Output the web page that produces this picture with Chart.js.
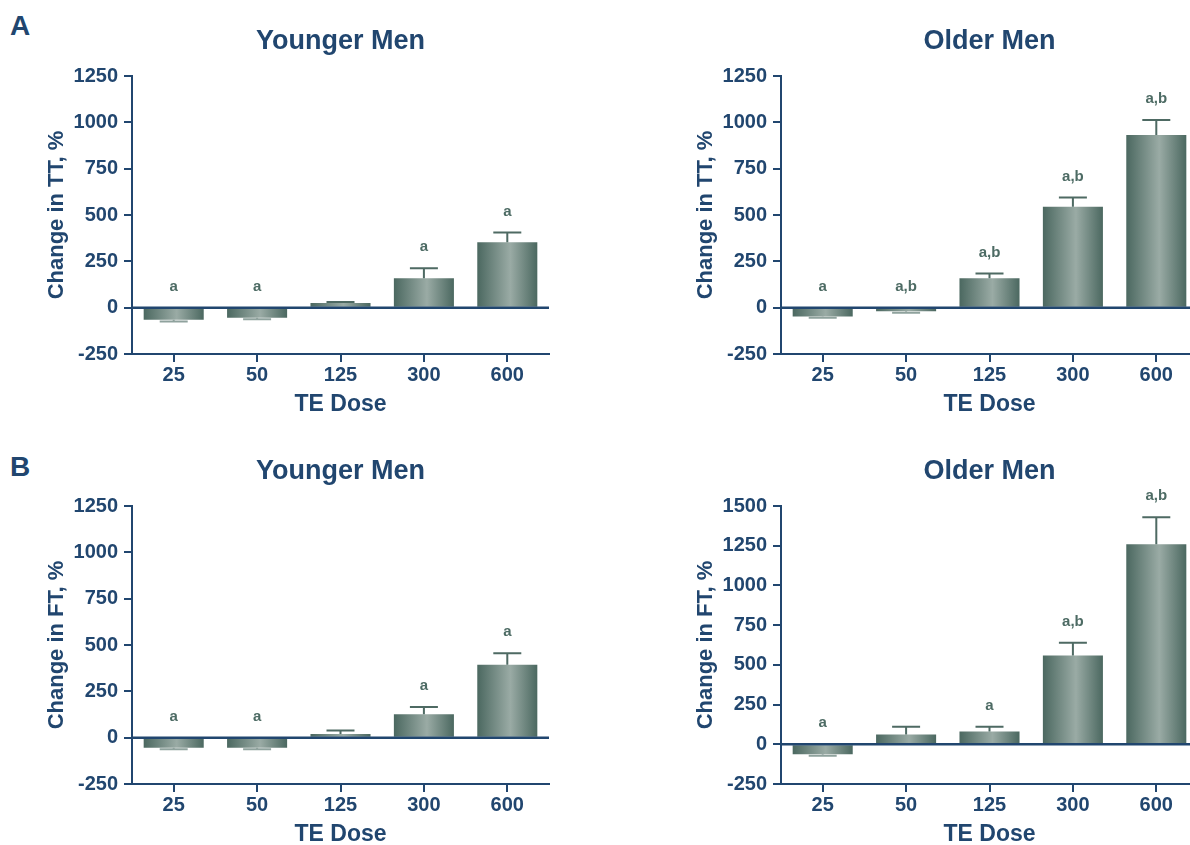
<!DOCTYPE html>
<html>
<head>
<meta charset="utf-8">
<script src="https://cdn.jsdelivr.net/npm/chart.js@4/dist/chart.umd.min.js"></script>
<style>
  html, body { margin: 0; padding: 0; background: #fff; }
  body { width: 1190px; height: 845px; overflow: hidden; position: relative; font-family: "Liberation Sans", Arial, sans-serif; }
  .panel-letter { position: absolute; font-weight: bold; font-size: 28px; color: #21466f; line-height: 1; }
  .box { position: absolute; width: 560px; height: 425px; }
</style>
</head>
<body>
<div class="panel-letter" style="left:10px; top:12px;">A</div>
<div class="panel-letter" style="left:10px; top:453px;">B</div>
<div class="box" style="left:0px; top:0px;"><canvas id="ttYounger" width="560" height="425"></canvas></div>
<div class="box" style="left:649px; top:0px;"><canvas id="ttOlder" width="560" height="425"></canvas></div>
<div class="box" style="left:0px; top:430px;"><canvas id="ftYounger" width="560" height="425"></canvas></div>
<div class="box" style="left:649px; top:430px;"><canvas id="ftOlder" width="560" height="425"></canvas></div>
<script>
// dose groups (x categories)
const doses = ['25', '50', '125', '300', '600'];

// panel A: change in total testosterone, %
const ttYoungerMean = [-65, -54, 25, 159, 353];
const ttYoungerErr  = [9, 9, 6, 54, 52];
const ttYoungerSig  = ['a', 'a', '', 'a', 'a'];

const ttOlderMean = [-48, -20, 159, 544, 932];
const ttOlderErr  = [7, 8, 25, 50, 81];
const ttOlderSig  = ['a', 'a,b', 'a,b', 'a,b', 'a,b'];

// panel B: change in free testosterone, %
const ftYoungerMean = [-54, -54, 20, 127, 393];
const ftYoungerErr  = [9, 9, 18, 39, 62];
const ftYoungerSig  = ['a', 'a', '', 'a', 'a'];

const ftOlderMean = [-62, 61, 80, 559, 1259];
const ftOlderErr  = [10, 49, 30, 80, 170];
const ftOlderSig  = ['a', '', 'a', 'a,b', 'a,b'];

// y axis ranges
const yMin = -250;
const yStep = 250;
const yMaxDefault = 1250;
const yMaxFtOlder = 1500;

const NAVY = '#21466f';
const BAR_DARK = '#4b6860';
const BAR_LIGHT = '#9aaba5';
const FONT = '"Liberation Sans", Arial, sans-serif';

// error bars, zero line, significance letters and the panel title
function makeExtras(err, sig, title) {
  return {
    id: 'extras',
    afterDatasetsDraw(chart) {
      const { ctx, chartArea, scales: { y } } = chart;
      const meta = chart.getDatasetMeta(0);
      const means = chart.data.datasets[0].data;
      ctx.save();
      meta.data.forEach((bar, i) => {
        const v = means[i];
        const end = v >= 0 ? v + err[i] : v - err[i];
        const yBar = y.getPixelForValue(v);
        const yEnd = y.getPixelForValue(end);
        ctx.strokeStyle = v >= 0 ? '#4e6a63' : '#8fa29d';
        ctx.lineWidth = 2;
        ctx.beginPath();
        ctx.moveTo(bar.x, yBar);
        ctx.lineTo(bar.x, yEnd);
        ctx.moveTo(bar.x - 14, yEnd);
        ctx.lineTo(bar.x + 14, yEnd);
        ctx.stroke();
      });

      const y0 = y.getPixelForValue(0);
      ctx.strokeStyle = NAVY;
      ctx.lineWidth = 2.5;
      ctx.beginPath();
      ctx.moveTo(chartArea.left, y0);
      ctx.lineTo(chartArea.right, y0);
      ctx.stroke();

      ctx.fillStyle = '#4d6b64';
      ctx.font = 'bold 15px ' + FONT;
      ctx.textAlign = 'center';
      ctx.textBaseline = 'middle';
      meta.data.forEach((bar, i) => {
        if (!sig[i]) return;
        const top = means[i] >= 0 ? means[i] + err[i] : 0;
        ctx.fillText(sig[i], bar.x, y.getPixelForValue(top) - 21);
      });

      ctx.fillStyle = NAVY;
      ctx.font = 'bold 27px ' + FONT;
      ctx.fillText(title, (chartArea.left + chartArea.right) / 2, 42);
      ctx.restore();
    }
  };
}

function barGradient(context) {
  const chart = context.chart;
  const xs = chart.scales.x;
  if (!xs || !chart.chartArea) return BAR_DARK;
  const cx = xs.getPixelForValue(context.dataIndex);
  const w = (chart.chartArea.right - chart.chartArea.left) / doses.length * 0.72;
  const g = chart.ctx.createLinearGradient(cx - w / 2, 0, cx + w / 2, 0);
  g.addColorStop(0, BAR_DARK);
  g.addColorStop(0.55, BAR_LIGHT);
  g.addColorStop(1, BAR_DARK);
  return g;
}

function makeChart(id, means, err, sig, title, yTitle, yMax) {
  return new Chart(document.getElementById(id), {
    type: 'bar',
    data: {
      labels: doses,
      datasets: [{
        data: means,
        backgroundColor: barGradient,
        borderWidth: 0,
        barPercentage: 0.72,
        categoryPercentage: 1
      }]
    },
    options: {
      responsive: false,
      animation: false,
      layout: { padding: { left: 44, top: 76, right: 11, bottom: 0 } },
      plugins: { legend: { display: false }, tooltip: { enabled: false }, title: { display: false } },
      scales: {
        x: {
          grid: { display: true, drawOnChartArea: false, offset: false, tickLength: 8, color: NAVY, lineWidth: 2 },
          border: { display: true, color: NAVY, width: 2 },
          ticks: { color: NAVY, font: { family: FONT, size: 20, weight: 'bold' }, padding: 1, maxRotation: 0 },
          title: { display: true, text: 'TE Dose', color: NAVY, font: { family: FONT, size: 23, weight: 'bold' }, padding: { top: 0, bottom: 7 } },
          afterFit(scale) { scale.height = 71; }
        },
        y: {
          min: yMin,
          max: yMax,
          grid: { display: true, drawOnChartArea: false, tickLength: 8, color: NAVY, lineWidth: 2 },
          border: { display: true, color: NAVY, width: 2 },
          ticks: {
            stepSize: yStep,
            color: NAVY,
            font: { family: FONT, size: 20, weight: 'bold' },
            padding: 6,
            callback: v => String(v)
          },
          title: { display: true, text: yTitle, color: NAVY, font: { family: FONT, size: 22, weight: 'bold' }, padding: { top: 0, bottom: 0 } },
          afterFit(scale) { scale.width = 88; }
        }
      }
    },
    plugins: [makeExtras(err, sig, title)]
  });
}

makeChart('ttYounger', ttYoungerMean, ttYoungerErr, ttYoungerSig, 'Younger Men', 'Change in TT, %', yMaxDefault);
makeChart('ttOlder', ttOlderMean, ttOlderErr, ttOlderSig, 'Older Men', 'Change in TT, %', yMaxDefault);
makeChart('ftYounger', ftYoungerMean, ftYoungerErr, ftYoungerSig, 'Younger Men', 'Change in FT, %', yMaxDefault);
makeChart('ftOlder', ftOlderMean, ftOlderErr, ftOlderSig, 'Older Men', 'Change in FT, %', yMaxFtOlder);
</script>
</body>
</html>
